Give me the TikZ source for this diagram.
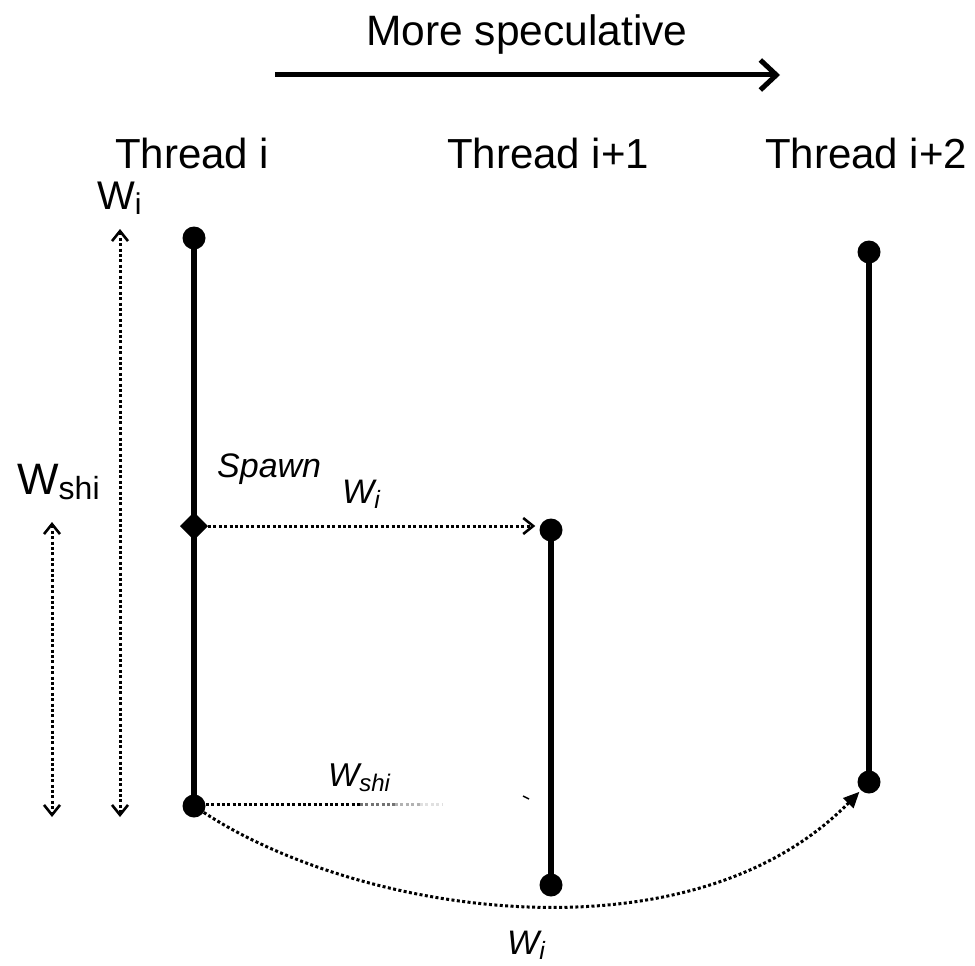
\documentclass[tikz,border=0pt]{standalone}
\usepackage{fontspec}
\setmainfont{Liberation Sans}
\usetikzlibrary{arrows.meta,shapes.geometric}
\newcommand{\fsz}[1]{\fontsize{#1}{#1}\selectfont}
\begin{document}
\begin{tikzpicture}[x=1pt,y=-1pt,
  dotnode/.style={circle,fill=black,inner sep=0pt,minimum size=23pt},
  threadline/.style={line width=5.5pt},
  dotline/.style={line width=3pt,dash pattern=on 3pt off 2.4pt},
  biglbl/.style={font=\fsz{42}, inner sep=0pt, anchor=base west},
  itlbl/.style={font=\fsz{34}\itshape, inner sep=0pt, anchor=base west},
  barbtip/.tip={Straight Barb[length=10pt,width=16pt,line width=2.6pt]},
]
\useasboundingbox (0,0) rectangle (975,966);

% title and arrow
\node[font=\fsz{42.5}, inner sep=0pt, anchor=base] (title) at (527,46) {More speculative};
\coordinate (ta) at (275,75);
\coordinate (tb) at (780,75);
\draw[line width=5pt, -{Straight Barb[length=16pt,width=30pt,line width=5pt]}] (ta) -- (tb);

% thread labels
\node[biglbl] (th0) at (115,168) {Thread i};
\node[biglbl] (th1) at (447,168) {Thread i+1};
\node[biglbl] (th2) at (765,168) {Thread i+2};

% threads
\node[dotnode] (t0s) at (194,238) {};
\node[dotnode] (t0e) at (194,806) {};
\node[dotnode] (t1s) at (551,530) {};
\node[dotnode] (t1e) at (551,885) {};
\node[dotnode] (t2s) at (869,252) {};
\node[dotnode] (t2e) at (869,782) {};
\draw[threadline] (t0s.center) -- (t0e.center);
\draw[threadline] (t1s.center) -- (t1e.center);
\draw[threadline] (t2s.center) -- (t2e.center);
\coordinate (sp) at (194,526);
\fill (sp) ++(-14,0) -- ++(14,-14) -- ++(14,14) -- ++(-14,14) -- cycle;
\coordinate (spe) at (208,526);

% left dimension arrows
\coordinate (la1) at (120,229);
\coordinate (la2) at (120,817);
\coordinate (lb1) at (52,522);
\coordinate (lb2) at (52,817);
\draw[dotline, barbtip-barbtip] (la1) -- (la2);
\draw[dotline, barbtip-barbtip] (lb1) -- (lb2);

\node[inner sep=0pt, anchor=base west] (wl) at (97,209) {\fsz{40}W\raisebox{-5pt}{\fsz{30}i}};
\node[inner sep=0pt, anchor=base west] (wshl) at (17,494) {\fsz{44}W\raisebox{-5pt}{\fsz{32}shi}};

% spawn arrow
\node[itlbl] (spl) at (217,477) {Spawn};
\node[inner sep=0pt, anchor=base west] (wmid) at (342,503) {\fsz{34}\itshape W\raisebox{-5pt}{\fsz{25}\itshape i}};
\draw[dotline, -barbtip, shorten >=4pt] (spe) -- (spe -| t1s.west);

% W_shi fading line
\node[inner sep=0pt, anchor=base west] (wsb) at (328,786) {\fsz{33}\itshape W\raisebox{-5pt}{\fsz{24}\itshape shi}};
\coordinate (f1) at (360,804);
\coordinate (f2) at (395,804);
\coordinate (f3) at (420,804);
\coordinate (f4) at (442,804);
\draw[dotline] (t0e.east |- f1) -- (f1);
\draw[dotline, black!55] (f1) -- (f2);
\draw[dotline, black!30] (f2) -- (f3);
\draw[dotline, black!12] (f3) -- (f4);
\coordinate (m1) at (523,796);
\coordinate (m2) at (529,799);
\draw[line width=1.5pt] (m1) -- (m2);

% curved arrow
\draw[dotline, -{Triangle[length=16pt,width=14pt]}, shorten >=2pt]
  (t0e) .. controls (360,915) and (690,965) .. (t2e);
\node[inner sep=0pt, anchor=base west] (wbot) at (507,954) {\fsz{34}\itshape W\raisebox{-5pt}{\fsz{25}\itshape i}};
\end{tikzpicture}
\end{document}
